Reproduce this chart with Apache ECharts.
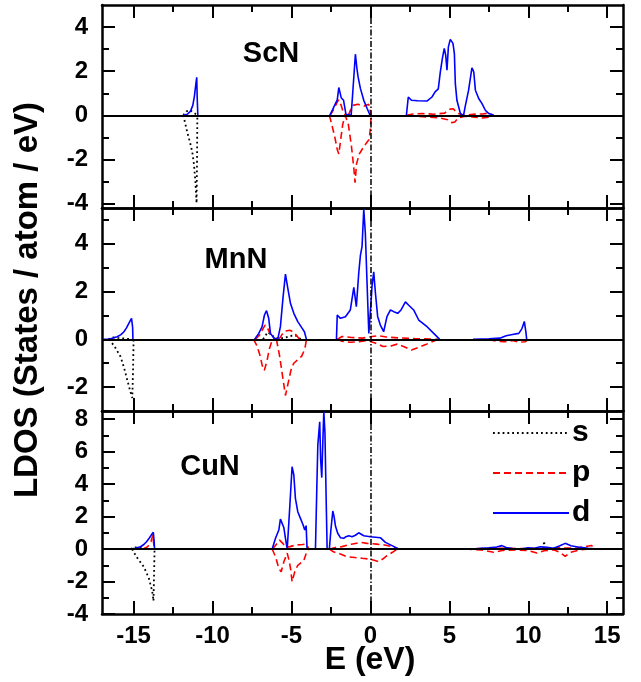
<!DOCTYPE html>
<html>
<head>
<meta charset="utf-8">
<script src="https://cdn.jsdelivr.net/npm/echarts@6/dist/echarts.min.js"></script>
<style>
  html, body { margin: 0; padding: 0; background: #fff; }
  #chart { width: 641px; height: 682px; }
</style>
</head>
<body>
<div id="chart"></div>
<script>
// Energy axis (eV) shared by the three panels
const energyRange = [-17, 16];
const energyMajor = [-15, -10, -5, 0, 5, 10, 15];
const energyMinor = [-12.5, -7.5, -2.5, 2.5, 7.5, 12.5];

const panelNames = ['ScN', 'MnN', 'CuN'];
const ldosRanges = [[-4.2, 5], [-3, 5.5], [-4, 8.5]];
const ldosMajor = [[-4, -2, 0, 2, 4], [-2, 0, 2, 4], [-4, -2, 0, 2, 4, 6, 8]];
const ldosMinor = [[-3, -1, 1, 3], [-3, -1, 1, 3, 5], [-3, -1, 1, 3, 5, 7]];
const orbitals = ['s', 'p', 'd'];

// ---- ScN : [E, LDOS] segments ----
const scnS = [
  [[-11.85, 0], [-11.65, 0.18], [-11.45, 0.24], [-11.25, 0.15], [-11.05, 0.05], [-10.95, 0]],
  [[-11.85, 0], [-11.6, -0.76], [-11.4, -1.3], [-11.28, -1.67], [-11.18, -2.2], [-11.08, -3.03], [-11.01, -3.98], [-10.98, -2.0], [-10.96, 0]]
];
const scnP = [
  [[-2.55, 0], [-2.3, 0.3], [-2.1, 0.6], [-2.0, 0.7], [-1.85, 0.45], [-1.7, 0.1], [-1.55, 0]],
  [[-1.4, 0], [-1.25, 0.25], [-1.1, 0.45], [-0.8, 0.5], [-0.4, 0.42], [-0.1, 0.5], [0.02, 0.5], [0.05, 0]],
  [[2.3, 0], [2.7, 0.06], [3.3, 0.08], [4.0, 0.05], [4.7, 0.1], [5.05, 0.28], [5.25, 0.3], [5.5, 0.1], [5.9, 0], [6.5, 0.05], [7.1, 0.06], [7.5, 0.1], [7.8, 0]],
  [[-2.6, 0], [-2.45, -0.4], [-2.25, -1.0], [-2.1, -1.55], [-2.0, -1.75], [-1.9, -1.2], [-1.75, -0.4], [-1.6, 0], [-1.4, -0.4], [-1.2, -1.4], [-1.05, -2.4], [-0.97, -3.05], [-0.88, -2.2], [-0.7, -1.75], [-0.45, -1.45], [-0.25, -1.25], [-0.08, -1.1], [0, -0.6], [0.05, 0]],
  [[2.4, 0], [3.0, -0.05], [3.8, -0.08], [4.4, -0.12], [4.9, -0.2], [5.15, -0.33], [5.35, -0.3], [5.55, -0.12], [6.0, -0.04], [6.6, -0.08], [7.1, -0.12], [7.5, -0.08], [7.8, 0]]
];
const scnD = [
  [[-11.85, 0], [-11.6, 0.05], [-11.4, 0.18], [-11.25, 0.45], [-11.15, 0.85], [-11.05, 1.45], [-11.0, 1.72], [-10.97, 0.8], [-10.93, 0]],
  [[-2.57, 0], [-2.4, 0.25], [-2.2, 0.55], [-2.1, 0.7], [-2.0, 1.26], [-1.93, 1.05], [-1.85, 0.8], [-1.7, 0.68], [-1.55, 0.05], [-1.5, 0], [-1.22, 0], [-1.12, 1.0], [-1.05, 1.74], [-0.95, 2.77], [-0.85, 2.1], [-0.78, 1.74], [-0.63, 1.21], [-0.42, 0.68], [-0.2, 0.3], [-0.05, 0.05], [0, 0]],
  [[2.28, 0], [2.4, 0.83], [2.6, 0.68], [3.0, 0.66], [3.6, 0.65], [3.9, 0.83], [4.1, 1.06], [4.2, 0.98], [4.3, 1.2], [4.43, 1.97], [4.5, 2.0], [4.56, 2.58], [4.68, 3.03], [4.77, 2.73], [4.85, 2.05], [4.94, 3.1], [5.06, 3.44], [5.23, 3.26], [5.32, 2.8], [5.38, 1.44], [5.48, 0.68], [5.7, 0.08], [5.9, 0], [6.0, 0.38], [6.22, 1.14], [6.43, 2.15], [6.5, 2.05], [6.55, 1.95], [6.65, 1.14], [6.86, 0.76], [7.07, 0.53], [7.28, 0.23], [7.5, 0.08], [7.8, 0]]
];

// ---- MnN ----
const mnnS = [
  [[-16.6, 0], [-16.3, 0.08], [-16.0, 0.06], [-15.5, 0.03], [-15.1, 0]],
  [[-16.55, 0], [-16.2, -0.3], [-15.82, -0.73], [-15.6, -1.2], [-15.4, -1.7], [-15.22, -2.15], [-15.08, -2.45], [-15.03, -1.2], [-15.0, 0]],
  [[-6.8, 0], [-6.5, 0.3], [-6.3, 0.2], [-6.0, 0.05], [-5.5, 0.05], [-5.0, 0.15], [-4.7, 0.15], [-4.4, 0]]
];
const mnnP = [
  [[-7.3, 0], [-7.0, 0.2], [-6.8, 0.45], [-6.67, 0.6], [-6.5, 0.45], [-6.3, 0.15], [-6.1, 0.05], [-5.9, 0]],
  [[-5.8, 0], [-5.6, 0.2], [-5.4, 0.35], [-5.1, 0.38], [-4.85, 0.3], [-4.6, 0.1], [-4.5, 0]],
  [[-2.1, 0], [-1.8, 0.12], [-1.2, 0.08], [-0.5, 0.05], [0.1, 0.12], [0.5, 0.15], [1.0, 0.1], [1.8, 0.06], [2.8, 0.03], [4.3, 0]],
  [[-7.4, 0], [-7.2, -0.25], [-7.0, -0.65], [-6.85, -1.1], [-6.72, -1.3], [-6.55, -0.9], [-6.4, -0.4], [-6.25, -0.1], [-6.0, 0]],
  [[-5.95, 0], [-5.75, -0.7], [-5.55, -1.6], [-5.38, -2.35], [-5.2, -1.8], [-5.0, -1.2], [-4.85, -1.0], [-4.6, -0.85], [-4.35, -0.7], [-4.15, -0.4], [-4.05, 0]],
  [[-2.1, 0], [-1.8, -0.08], [-1.3, -0.12], [-0.7, -0.1], [-0.2, -0.05], [0.3, -0.15], [0.8, -0.3], [1.3, -0.28], [1.7, -0.2], [2.1, -0.3], [2.6, -0.45], [3.0, -0.35], [3.5, -0.22], [3.9, -0.1], [4.3, 0]],
  [[7.5, 0], [8.0, -0.08], [8.5, -0.1], [9.0, -0.05], [9.4, -0.12], [9.8, -0.1], [10.0, 0]]
];
const mnnD = [
  [[-16.92, 0], [-16.5, 0.01], [-16.04, 0.11], [-15.8, 0.2], [-15.61, 0.32], [-15.45, 0.48], [-15.3, 0.67], [-15.13, 0.88], [-15.06, 0.5], [-15.04, 0]],
  [[-7.34, 0], [-7.07, 0.25], [-6.86, 0.53], [-6.71, 1.02], [-6.58, 1.2], [-6.44, 0.88], [-6.33, 0.25], [-6.12, 0.06], [-5.87, 0], [-5.7, 0.53], [-5.53, 1.78], [-5.38, 2.73], [-5.23, 2.13], [-5.06, 1.5], [-4.85, 1.09], [-4.6, 0.74], [-4.32, 0.46], [-4.18, 0.32], [-4.05, 0]],
  [[-2.15, 0], [-2.1, 1.02], [-1.9, 0.88], [-1.58, 0.95], [-1.27, 1.23], [-1.05, 2.18], [-0.89, 1.37], [-0.74, 2.76], [-0.63, 3.53], [-0.53, 3.88], [-0.42, 5.45], [-0.32, 4.44], [-0.21, 2.33], [-0.1, 0.25], [0.04, 1.56], [0.1, 2.2], [0.21, 2.83], [0.32, 1.93], [0.46, 0.96], [0.63, 0.6], [0.84, 0.32], [1.05, 0.95], [1.27, 1.23], [1.48, 1.16], [1.73, 1.09], [1.94, 1.23], [2.22, 1.57], [2.43, 1.43], [2.74, 1.23], [3.06, 0.81], [3.59, 0.53], [4.01, 0.25], [4.39, 0]],
  [[6.5, 0], [7.5, 0.02], [8.2, 0.05], [8.6, 0.15], [9.0, 0.2], [9.4, 0.25], [9.6, 0.45], [9.75, 0.75], [9.85, 0.3], [9.9, 0]]
];

// ---- CuN ----
const cunS = [
  [[-15.2, 0], [-14.9, 0.1], [-14.6, 0.08], [-14.3, 0.03], [-13.9, 0]],
  [[-15.1, 0], [-14.8, -0.5], [-14.35, -1.1], [-14.03, -1.8], [-13.82, -2.6], [-13.74, -3.2], [-13.7, -1.5], [-13.67, 0]],
  [[10.95, 0], [11.0, 0.5], [11.05, 0]]
];
const cunP = [
  [[-14.4, 0], [-14.1, 0.15], [-13.9, 0.45], [-13.78, 0.85], [-13.73, 0.95], [-13.69, 0]],
  [[-6.2, 0], [-5.95, 0.3], [-5.75, 0.55], [-5.55, 0.35], [-5.35, 0.1], [-5.1, 0.15], [-4.7, 0.25], [-4.3, 0.28], [-4.05, 0.3], [-3.9, 0]],
  [[-2.6, 0], [-2.2, 0.1], [-1.8, 0.15], [-1.2, 0.3], [-0.63, 0.41], [-0.2, 0.35], [0.4, 0.3], [0.9, 0.25], [1.4, 0.15], [1.75, 0]],
  [[6.0, 0], [7.0, 0.03], [8.5, 0.05], [10.0, 0.02], [11.5, 0.08], [13.0, 0.05], [14.0, 0.22], [14.3, 0]],
  [[-6.22, 0], [-6.0, -0.5], [-5.8, -1.2], [-5.65, -1.4], [-5.48, -0.78], [-5.27, -0.25], [-5.15, -0.7], [-5.06, -1.19], [-4.96, -2.01], [-4.79, -1.4], [-4.6, -1.0], [-4.22, -0.72], [-4.01, -0.1], [-3.9, 0]],
  [[-2.6, 0], [-2.34, -0.17], [-1.9, -0.3], [-1.48, -0.47], [-1.0, -0.52], [-0.53, -0.57], [0, -0.62], [0.53, -0.78], [0.8, -0.6], [1.05, -0.41], [1.4, -0.2], [1.69, 0]],
  [[6.0, 0], [7.0, -0.05], [7.8, -0.2], [8.4, -0.08], [9.2, -0.05], [10.0, -0.1], [10.55, -0.25], [11.0, -0.1], [11.6, -0.05], [12.0, -0.2], [12.34, -0.45], [12.7, -0.2], [13.3, -0.05], [13.8, 0]]
];
const cunD = [
  [[-15.19, 0], [-14.9, 0.05], [-14.56, 0.14], [-14.35, 0.28], [-14.18, 0.45], [-14.0, 0.68], [-13.88, 0.86], [-13.75, 1.03], [-13.7, 0.5], [-13.67, 0]],
  [[-6.22, 0], [-6.01, 0.66], [-5.8, 1.17], [-5.7, 1.85], [-5.59, 1.58], [-5.48, 1.31], [-5.38, 0.66], [-5.27, 0], [-5.18, 1.4], [-5.1, 2.71], [-4.96, 5.07], [-4.85, 4.56], [-4.75, 3.12], [-4.6, 2.3], [-4.43, 1.89], [-4.26, 1.48], [-4.16, 1.17], [-4.07, 1.44], [-4.01, 0]],
  [[-3.48, 0], [-3.4, 3.5], [-3.33, 6.4], [-3.21, 7.84], [-3.15, 5.5], [-3.08, 4.4], [-3.0, 7.0], [-2.95, 8.45], [-2.88, 7.2], [-2.8, 3.0], [-2.74, 0], [-2.6, 0], [-2.5, 1.2], [-2.38, 2.34], [-2.3, 2.0], [-2.21, 1.4], [-2.07, 0.97], [-1.9, 0.7], [-1.69, 0.66], [-1.55, 0.76], [-1.37, 0.82], [-1.16, 0.76], [-0.95, 0.85], [-0.74, 1.0], [-0.42, 0.82], [0, 0.76], [0.63, 0.7], [0.95, 0.41], [1.37, 0.21], [1.79, 0]],
  [[6.43, 0], [7.0, 0.05], [7.5, 0.08], [8.0, 0.12], [8.33, 0.21], [8.6, 0.1], [9.0, 0.03], [9.5, 0.0], [10.0, 0.08], [10.4, 0.05], [10.76, 0.14], [11.2, 0.1], [11.6, 0.05], [12.0, 0.2], [12.34, 0.35], [12.7, 0.2], [13.3, 0.1], [13.8, 0.05], [14.4, 0]]
];

const panelData = [
  { s: scnS, p: scnP, d: scnD },
  { s: mnnS, p: mnnP, d: mnnD },
  { s: cunS, p: cunP, d: cunD }
];

// ---- styling ----
const FONT = '"Liberation Sans", Arial, Helvetica, sans-serif';
const lineStyles = {
  s: { color: '#000000', width: 1.8, type: [1.8, 3] },
  p: { color: '#ff0000', width: 1.6, type: [7, 4] },
  d: { color: '#0000ff', width: 1.6, type: 'solid' }
};
const gridLayout = { left: 102, right: 18, tops: [5, 208, 411], height: 203 };
const AXIS_W = 2.5;

const grids = [], xAxes = [], yAxes = [], series = [];

panelNames.forEach((name, gi) => {
  grids.push({ left: gridLayout.left, right: gridLayout.right, top: gridLayout.tops[gi], height: gridLayout.height, containLabel: false });
  const isBottom = gi === panelNames.length - 1;

  // x: bottom major, bottom minor, top major, top minor
  [['bottom', energyMajor, 13, true], ['bottom', energyMinor, 7, false], ['top', energyMajor, 13, true], ['top', energyMinor, 7, false]]
    .forEach(([pos, vals, len, line], k) => {
      xAxes.push({
        gridIndex: gi, type: 'value', position: pos,
        min: energyRange[0], max: energyRange[1],
        axisLine: { show: line, onZero: false, lineStyle: { color: '#000', width: AXIS_W } },
        axisTick: { show: true, inside: true, length: len, customValues: vals, lineStyle: { color: '#000', width: 2 } },
        axisLabel: {
          show: isBottom && k === 0, customValues: energyMajor, margin: 10,
          color: '#000', fontFamily: FONT, fontWeight: 'bold', fontSize: 24
        },
        splitLine: { show: false }
      });
    });

  // y: left major, left minor, right major, right minor
  [['left', ldosMajor[gi], 13, true], ['left', ldosMinor[gi], 7, false], ['right', ldosMajor[gi], 13, true], ['right', ldosMinor[gi], 7, false]]
    .forEach(([pos, vals, len, line], k) => {
      yAxes.push({
        gridIndex: gi, type: 'value', position: pos,
        min: ldosRanges[gi][0], max: ldosRanges[gi][1],
        axisLine: { show: line, onZero: false, lineStyle: { color: '#000', width: AXIS_W } },
        axisTick: { show: true, inside: true, length: len, customValues: vals, lineStyle: { color: '#000', width: 2 } },
        axisLabel: {
          show: k === 0, customValues: ldosMajor[gi], margin: 14,
          color: '#000', fontFamily: FONT, fontWeight: 'bold', fontSize: 24
        },
        splitLine: { show: false }
      });
    });

  // zero line and Fermi level
  series.push({
    type: 'line', xAxisIndex: gi * 4, yAxisIndex: gi * 4, data: [], silent: true, z: 1,
    markLine: {
      silent: true, symbol: 'none', label: { show: false }, animation: false,
      data: [
        { yAxis: 0, lineStyle: { color: '#000', width: 2, type: 'solid' } },
        { xAxis: 0, lineStyle: { color: '#000', width: 1.5, type: [6, 2, 1.5, 2] } }
      ]
    }
  });

  orbitals.forEach((orb, oi) => {
    panelData[gi][orb].forEach(seg => {
      series.push({
        name: orb, type: 'line', xAxisIndex: gi * 4, yAxisIndex: gi * 4,
        data: seg, symbol: 'none', showSymbol: false, smooth: false,
        lineStyle: lineStyles[orb],
        itemStyle: { color: lineStyles[orb].color, opacity: 0 },
        z: 2 + oi, clip: true
      });
    });
  });
});

const chart = echarts.init(document.getElementById('chart'), null, { renderer: 'canvas' });
chart.setOption({
  animation: false,
  backgroundColor: '#ffffff',
  grid: grids,
  xAxis: xAxes,
  yAxis: yAxes,
  legend: {
    data: orbitals, orient: 'vertical', left: 487, top: 413,
    itemWidth: 76, itemHeight: 14, itemGap: 10,
    itemStyle: { opacity: 0 },
    textStyle: { color: '#000', fontFamily: FONT, fontWeight: 'bold', fontSize: 30, lineHeight: 30, padding: [0, 0, 0, -2] },
    selectedMode: false
  },
  graphic: [
    { type: 'text', x: 271, y: 54, style: { text: 'ScN', fill: '#000', font: 'bold 29px ' + FONT, textAlign: 'center', textVerticalAlign: 'middle' } },
    { type: 'text', x: 236, y: 260, style: { text: 'MnN', fill: '#000', font: 'bold 29px ' + FONT, textAlign: 'center', textVerticalAlign: 'middle' } },
    { type: 'text', x: 210, y: 467, style: { text: 'CuN', fill: '#000', font: 'bold 29px ' + FONT, textAlign: 'center', textVerticalAlign: 'middle' } },
    { type: 'text', x: 370, y: 660, style: { text: 'E (eV)', fill: '#000', font: 'bold 32px ' + FONT, textAlign: 'center', textVerticalAlign: 'middle' } },
    { type: 'text', x: 28, y: 300, rotation: Math.PI / 2, style: { text: 'LDOS (States / atom / eV)', fill: '#000', font: 'bold 33px ' + FONT, textAlign: 'center', textVerticalAlign: 'middle' } }
  ],
  series: series
});
</script>
</body>
</html>
